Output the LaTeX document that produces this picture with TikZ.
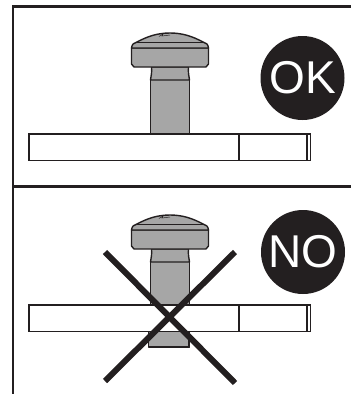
\documentclass[tikz,border=0pt]{standalone}
\usepackage{fontspec}
\setmainfont{Liberation Sans}
\definecolor{screwgray}{HTML}{A6A6A6}
\definecolor{inkblack}{HTML}{231F20}
\tikzset{
  frameline/.style={line width=2.6pt,draw=inkblack},
  plateline/.style={line width=1.2pt,draw=inkblack},
  screwline/.style={line width=1.4pt,draw=inkblack,fill=screwgray,line join=round},
  crossline/.style={line width=6pt,draw=inkblack},
  badge/.style={circle,fill=inkblack,text=white,minimum size=84pt,inner sep=0pt,font=\fontsize{46}{46}\selectfont}
}
\begin{document}
\begin{tikzpicture}[x=1pt,y=-1pt]
	\useasboundingbox (0,0) rectangle (351,394);
	% frame
	\draw[frameline] (13,394) -- (13,6.5) -- (351,6.5);
	\draw[frameline] (13,186.5) -- (351,186.5);

	% screws, lower one has the longer shank
	\foreach \dy/\len in {0/134,182/165}{
		\begin{scope}[yshift=-\dy pt]
			% shank
			\draw[screwline] (150.5,80) -- (150.5,\len) -- (189.5,\len) -- (189.5,80);
			% neck
			\draw[screwline] (151.5,67) .. controls (152,73) and (151,76) .. (150.5,80) -- (189.5,80) .. controls (189,76) and (188,73) .. (188.5,67) -- cycle;
			% head
			\draw[screwline] (131.5,48) -- (131.5,64) -- (134,67) -- (206,67) -- (208.5,64) -- (208.5,48) -- cycle;
			\draw[screwline] (131.5,48) .. controls (132,44) and (134,43) .. (136,42.5) .. controls (148,36) and (158,33) .. (170,33) .. controls (182,33) and (192,36) .. (204,42.5) .. controls (206,43) and (208,44) .. (208.5,48) -- cycle;
			\draw[plateline] (136,42.5) -- (204,42.5);
			% slot
			\draw[line width=.5pt,draw=inkblack] (159,36.5) -- (163,34) -- (162,36) -- (170,35);
		\end{scope}
	}

	% plates
	\foreach \py in {134,305}{
		\fill[white] (29,\py) rectangle (310.5,\py+26.5);
		\draw[plateline] (29,\py) rectangle (310.5,\py+26.5);
		\draw[plateline] (239,\py) -- (239,\py+26.5);
		\draw[plateline] (307,\py) -- (307,\py+26.5);
	}
	% shank below lower plate
	\draw[screwline] (148.5,331.5) -- (148.5,347) -- (189,347) -- (189,331.5);

	% cross
	\draw[crossline] (105,252) -- (235,383);
	\draw[crossline] (105,381) -- (235,252);

	% badges
	\node[badge] (ok) at (302.5,78) {OK};
	\node[badge] (no) at (303,252) {NO};
\end{tikzpicture}
\end{document}
